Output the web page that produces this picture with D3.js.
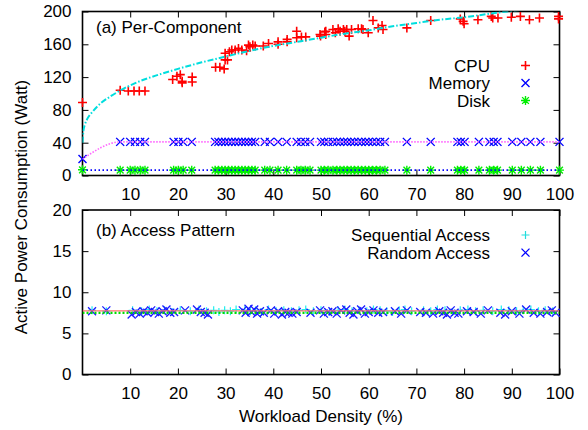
<!DOCTYPE html>
<html><head><meta charset="utf-8">
<script src="https://cdn.jsdelivr.net/npm/d3@7"></script>
<style>
html,body{margin:0;padding:0;background:#fff;}
svg{display:block;font-family:"Liberation Sans",Arial,Helvetica,sans-serif;}
</style></head>
<body><svg id="c" width="588" height="430"></svg>
<script>
// ---------- data ----------
const xTicks = [10,20,30,40,50,60,70,80,90,100];
const yTicksTop = [0,40,80,120,160,200];
const yTicksBot = [0,5,10,15,20];

const cpuX = [0,7.9,9.6,10.8,11.9,13.1,18.9,19.8,20.5,20.9,20.9,23,23,27.9,28.8,29.7,29.9,30.4,29.9,30.8,31.3,32,32.7,33.4,34.4,34.8,35.1,35.7,36.2,37.9,39,41,41,42.9,42.9,44.9,44.9,45.9,46.8,49.9,51,51,49.8,50.8,52.5,53,53.6,54,54.7,55,55.4,55.9,56.4,57.8,58.5,58.8,59.9,60.9,62,62.8,63,68,73,79.2,79.8,80,82.9,85.7,86,87.1,89.9,91.8,93.7,95.8,99.8,99.8];
const cpuY = [89,104,103,103,103,103,117,121,123,113,115,120,114,132,132,130,141,141,149,151,153,153,155,153,152,159,157,159,158,158,161,163,160,166,163,176,168,169,169,170,176,172,172,175,178,174,179,176,178,176,178,170,178,179,179,178,174,189,180,183,178,180,189,191,188,185,190,194,192,192,193,194,190,192,194,191];

const memX = [0,7.9,10,11,12.1,13.1,19.1,20.1,21.1,22.9,27.8,28.5,29.2,29.9,30.6,31.3,32,32.7,33.4,34.1,34.8,35.5,36.2,38.2,39.3,41,42.8,44.9,45.8,46.7,47.7,50,50.7,51.5,52.5,53.3,54,54.8,55.5,56.3,57,57.8,58.5,59.3,60,60.8,61.6,62.4,63.4,68,73,78.6,79.3,80.1,83.1,85.3,86.2,87,90.1,92,93.9,96,100];
const memY = [20,41,41,41,41,41,41,41,41,41,41,41,41,41,41,41,41,41,41,41,41,41,41,41,41,41,41,41,41,41,41,41,41,41,41,41,41,41,41,41,41,41,41,41,41,41,41,41,41,41,41,41,41,41,41,41,41,41,41,41,41,41,41];
const diskX = memX;
const diskY = [7,6.5,6.5,6.5,6.5,6.5,6.5,6.5,6.5,6.5,6.5,6.5,6.5,6.5,6.5,6.5,6.5,6.5,6.5,6.5,6.5,6.5,6.5,6.5,6.5,6.5,6.5,6.5,6.5,6.5,6.5,6.5,6.5,6.5,6.5,6.5,6.5,6.5,6.5,6.5,6.5,6.5,6.5,6.5,6.5,6.5,6.5,6.5,6.5,6.5,6.5,6.5,6.5,6.5,6.5,6.5,6.5,6.5,6.5,6.5,6.5,6.5,6.5];

// fit curves
const cpuFitX = [0,0.2,0.5,1,2,4,6,8,12,16,20,25,30,35,40,45,50,55,60,65,70,75,80,85,89,100];
const cpuFitY = [40,55,62,69,77,89,97,104,115,123,130,138,145,152,158,163,168,173,177,182,186,190,193,197,200,207];
const memFitX = [0,8,100];
const memFitY = [20,41,41];
const diskFitX = [0,100];
const diskFitY = [6.5,6.5];

const seqX = [2,5,10.5,12.4,14,15.6,17.2,18.8,20.5,22.6,24.4,26,27.5,28.6,29.8,31,32.2,34,35.2,36.3,37.5,39,40.6,42.2,43.8,45.4,46.8,48.4,50,51.8,53.6,55,56.5,58,59.6,61,62.4,63.8,65,66.4,67.6,69,71.5,73,74.4,76,77.6,79.2,80.8,82.4,84,86,87.8,89.4,91,92.4,94,95.6,97,98.6];
const seqY = [7.8,7.7,7.8,7.7,7.9,7.7,7.8,7.6,7.8,7.7,7.9,7.7,7.8,7.6,7.8,7.7,7.9,7.8,7.7,7.8,7.6,7.9,7.7,7.8,7.7,7.8,7.9,7.7,7.8,7.6,7.8,7.9,7.7,7.8,7.7,7.9,7.8,7.7,7.6,7.8,7.9,7.7,7.8,7.7,7.9,7.8,7.6,7.8,7.9,7.7,7.8,7.7,7.9,7.8,7.7,7.8,7.9,7.7,7.8,7.7];
const randX = [2,5,10.3,11.2,12,12.8,13.6,14.4,15.2,16,16.8,17.6,18.4,19.2,21.5,24,24.8,25.6,26.3,33.6,34.2,34.8,35.4,36,36.6,37.2,38,39.5,40.2,41,41.8,42.5,43.2,44,44.9,47.8,49.8,50.6,51.5,52.4,53.3,54.2,55.3,56,56.8,57.6,58.4,59.2,60,61,62,63,65.5,66.8,68,70.8,72,73.5,74.8,75.6,76.4,77.2,78,78.8,80.6,82,83.5,85,87.6,88.6,90,91.6,93,94.6,96,97.4,98.4,99.2];
const randY = [7.7,7.8,7.3,7.6,7.4,7.7,7.5,7.8,7.6,7.4,7.7,7.9,7.5,7.6,7.8,7.9,7.6,7.5,7.3,7.8,7.5,8.0,7.6,7.9,7.4,7.7,7.5,7.8,7.4,7.7,7.3,7.6,7.5,7.4,7.6,7.5,7.8,7.4,7.6,7.7,7.4,7.8,7.9,7.5,7.3,7.7,7.9,7.4,7.6,7.8,7.5,7.6,7.7,7.4,7.8,7.6,7.5,7.4,7.7,7.5,7.3,7.8,7.5,7.4,7.7,7.6,7.4,7.8,7.5,7.3,7.7,7.4,7.9,7.5,7.4,7.6,7.8,7.5];
const seqFitY = 7.74;
const randFitY = 7.49;

const legendTop = ["CPU","Memory","Disk"];
const legendBot = ["Sequential Access","Random Access"];

// ---------- drawing ----------
const svg = d3.select("#c");
const FS = 17;
const x = d3.scaleLinear().domain([0,100]).range([82.5,559.5]);
const yT = d3.scaleLinear().domain([0,200]).range([175.5,11.5]);
const yB = d3.scaleLinear().domain([0,20]).range([374.5,210]);

const zip = (a,b)=>a.slice(0,Math.min(a.length,b.length)).map((v,i)=>[v,b[i]]);

function markerPath(type, s){
  if(type==="plus") return `M${-s},0H${s}M0,${-s}V${s}`;
  if(type==="cross") return `M${-s},${-s}L${s},${s}M${-s},${s}L${s},${-s}`;
  if(type==="star") return `M${-s},0H${s}M0,${-s}V${s}M${-s*0.75},${-s*0.75}L${s*0.75},${s*0.75}M${-s*0.75},${s*0.75}L${s*0.75},${-s*0.75}`;
}

function panel(y, yTicks, clipId){
  const g = svg.append("g");
  // axes with inward ticks
  g.append("g").attr("transform",`translate(0,${y.range()[0]})`)
    .call(d3.axisBottom(x).tickValues(xTicks).tickSizeInner(-6).tickSizeOuter(0).tickPadding(12));
  g.append("g").attr("transform",`translate(0,${y.range()[1]})`)
    .call(d3.axisTop(x).tickValues(xTicks).tickSizeInner(-6).tickSizeOuter(0).tickFormat(""));
  g.append("g").attr("transform",`translate(${x.range()[0]},0)`)
    .call(d3.axisLeft(y).tickValues(yTicks).tickSizeInner(-6).tickSizeOuter(0).tickPadding(11));
  g.append("g").attr("transform",`translate(${x.range()[1]},0)`)
    .call(d3.axisRight(y).tickValues(yTicks).tickSizeInner(-6).tickSizeOuter(0).tickFormat(""));
  g.selectAll(".domain").remove();
  g.selectAll(".tick line").attr("stroke","#000").attr("stroke-width",1);
  g.selectAll(".tick text").attr("font-size",FS).attr("font-family","Liberation Sans, Arial, sans-serif").attr("fill","#000");
  g.append("rect").attr("x",x.range()[0]).attr("y",y.range()[1])
    .attr("width",x.range()[1]-x.range()[0]).attr("height",y.range()[0]-y.range()[1])
    .attr("fill","none").attr("stroke","#000").attr("stroke-width",1.6);
  svg.append("clipPath").attr("id",clipId).append("rect")
    .attr("x",x.range()[0]).attr("y",y.range()[1])
    .attr("width",x.range()[1]-x.range()[0]).attr("height",y.range()[0]-y.range()[1]);
  return g;
}

function points(g, y, data, type, color, s, sw){
  g.append("g").selectAll("path").data(data).join("path")
    .attr("transform",d=>`translate(${x(d[0])},${y(d[1])})`)
    .attr("d",markerPath(type,s)).attr("stroke",color).attr("stroke-width",sw).attr("fill","none");
}
function line(g, y, data, color, dash, sw, clipId){
  g.append("path").datum(data)
    .attr("d",d3.line().x(d=>x(d[0])).y(d=>y(d[1])).curve(d3.curveMonotoneX))
    .attr("fill","none").attr("stroke",color).attr("stroke-width",sw)
    .attr("stroke-dasharray",dash).attr("clip-path",`url(#${clipId})`);
}

// top panel
const gT = panel(yT, yTicksTop, "clipT");
points(gT, yT, zip(cpuX,cpuY), "plus", "#ff0000", 4.5, 1.6);
points(gT, yT, zip(memX,memY), "cross", "#0000ff", 4, 1.4);
points(gT, yT, zip(diskX,diskY), "star", "#00ee00", 4.5, 1.4);
line(gT, yT, zip(cpuFitX,cpuFitY), "#00dede", "6,2,1.5,2", 2, "clipT");
line(gT, yT, zip(memFitX,memFitY), "#ff66ff", "1.5,1.5", 1.6, "clipT");
line(gT, yT, zip(diskFitX,diskFitY), "#0000ff", "1.5,2.5", 1.6, "clipT");

gT.append("text").attr("x",96).attr("y",33).attr("font-size",FS).text("(a) Per-Component");
const legT = [["plus","#ff0000",4.5,1.6],["cross","#0000ff",4,1.4],["star","#00ee00",4.5,1.4]];
legendTop.forEach((t,i)=>{
  const cy = 65.5 + i*17.5;
  gT.append("text").attr("x",490).attr("y",cy+6).attr("text-anchor","end").attr("font-size",FS).text(t);
  gT.append("path").attr("transform",`translate(525.5,${cy})`).attr("d",markerPath(legT[i][0],legT[i][2]))
    .attr("stroke",legT[i][1]).attr("stroke-width",legT[i][3]).attr("fill","none");
});

// bottom panel
const gB = panel(yB, yTicksBot, "clipB");
points(gB, yB, zip(seqX,seqY), "plus", "#22eeee", 4, 1.2);
points(gB, yB, zip(randX,randY), "cross", "#1a1aff", 4, 1.3);
line(gB, yB, [[0,seqFitY],[100,seqFitY]], "#ff7070", null, 1.4, "clipB");
line(gB, yB, [[0,randFitY],[100,randFitY]], "#00dd00", "2,2", 2.2, "clipB");

gB.append("text").attr("x",96).attr("y",235.5).attr("font-size",FS).text("(b) Access Pattern");
const legB = [["plus","#22dddd",4,1.2],["cross","#0000ff",4,1.3]];
legendBot.forEach((t,i)=>{
  const cy = 235 + i*17.6;
  gB.append("text").attr("x",490).attr("y",cy+6).attr("text-anchor","end").attr("font-size",FS).text(t);
  gB.append("path").attr("transform",`translate(525.5,${cy})`).attr("d",markerPath(legB[i][0],legB[i][2]))
    .attr("stroke",legB[i][1]).attr("stroke-width",legB[i][3]).attr("fill","none");
});

// axis titles
svg.append("text").attr("x",321).attr("y",422).attr("text-anchor","middle").attr("font-size",FS)
  .text("Workload Density (%)");
svg.append("text").attr("transform","translate(26.5,207) rotate(-90)").attr("text-anchor","middle").attr("font-size",FS)
  .text("Active Power Consumption (Watt)");
</script></body></html>
